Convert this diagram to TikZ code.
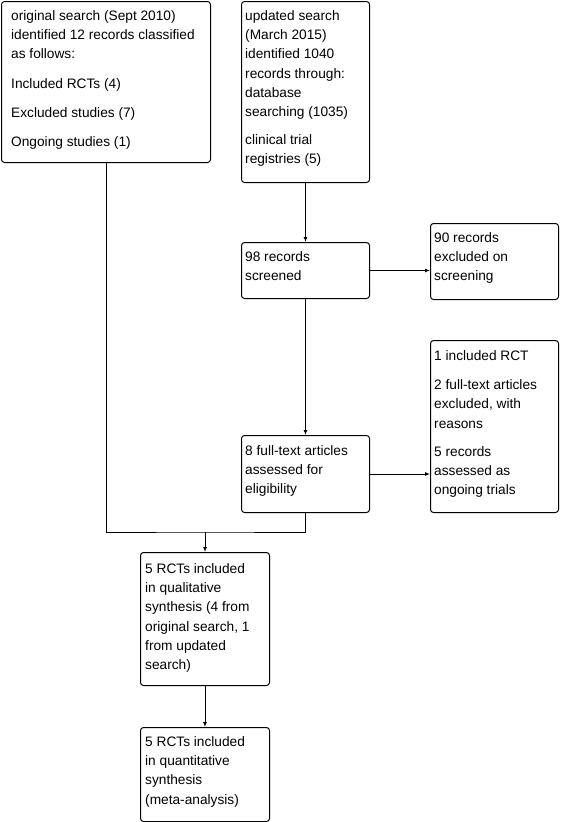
\documentclass[tikz,border=0pt]{standalone}
\usepackage{fontspec}
\setmainfont{Liberation Sans}
\usetikzlibrary{arrows.meta}
\begin{document}
\begin{tikzpicture}[x=1pt,y=-1pt,
  box/.style={draw,line width=1pt,rounded corners=3pt,rectangle,inner sep=0pt,anchor=north west},
  txt/.style={anchor=north west,inner sep=0pt,align=left,font=\fontsize{13.7}{19.1}\selectfont},
  arr/.style={line width=1pt,-{Latex[length=5pt,width=4pt]}},
  conn/.style={line width=1pt}]
\useasboundingbox (0,0) rectangle (561,822);
% boxes
\node[box,minimum width=209pt,minimum height=161pt] (A) at (1,1) {};
\node[box,minimum width=128pt,minimum height=181pt] (B) at (241,1) {};
\node[box,minimum width=128pt,minimum height=56pt] (C) at (241,242) {};
\node[box,minimum width=128pt,minimum height=76pt] (D) at (430,223) {};
\node[box,minimum width=128pt,minimum height=77pt] (E) at (241,435) {};
\node[box,minimum width=128pt,minimum height=172pt] (F) at (430,340) {};
\node[box,minimum width=129pt,minimum height=133pt] (G) at (140,552) {};
\node[box,minimum width=129pt,minimum height=94pt] (H) at (140,727) {};
% texts
\node[txt] (At) at (11,7.5) {\rule{0pt}{13pt}original search (Sept 2010)\\identified 12 records classified\\as follows:\\[10pt]Included RCTs (4)\\[10pt]Excluded studies (7)\\[10pt]Ongoing studies (1)};
\node[txt] (Bt) at (245,7.5) {\rule{0pt}{13pt}updated search\\(March 2015)\\identified 1040\\records through:\\database\\searching (1035)\\[9pt]clinical trial\\registries (5)};
\node[txt] (Ct) at (245,248.5) {\rule{0pt}{13pt}98 records\\screened};
\node[txt] (Dt) at (434,229.5) {\rule{0pt}{13pt}90 records\\excluded on\\screening};
\node[txt] (Et) at (245,442.5) {\rule{0pt}{13pt}8 full-text articles\\assessed for\\eligibility};
\node[txt] (Ft) at (434,347.5) {\rule{0pt}{13pt}1 included RCT\\[10pt]2 full-text articles\\excluded, with\\reasons\\[9pt]5 records\\assessed as\\ongoing trials};
\node[txt] (Gt) at (145,560.5) {\rule{0pt}{13pt}5 RCTs included\\in qualitative\\synthesis (4 from\\original search, 1\\from updated\\search)};
\node[txt] (Ht) at (145,733.5) {\rule{0pt}{13pt}5 RCTs included\\in quantitative\\synthesis\\(meta-analysis)};
% connectors
\coordinate (J) at (205,532);
\draw[arr] (B.south) -- (C.north);
\draw[arr] (C.east) -- (C.east -| D.west);
\draw[arr] (C.south) -- (E.north);
\draw[arr] (E.east) -- (E.east -| F.west);
\draw[conn] (A.south) |- (J) -| (E.south);
\draw[arr] (J) -- (G.north);
\draw[arr] (G.south) -- (H.north);
\end{tikzpicture}
\end{document}
